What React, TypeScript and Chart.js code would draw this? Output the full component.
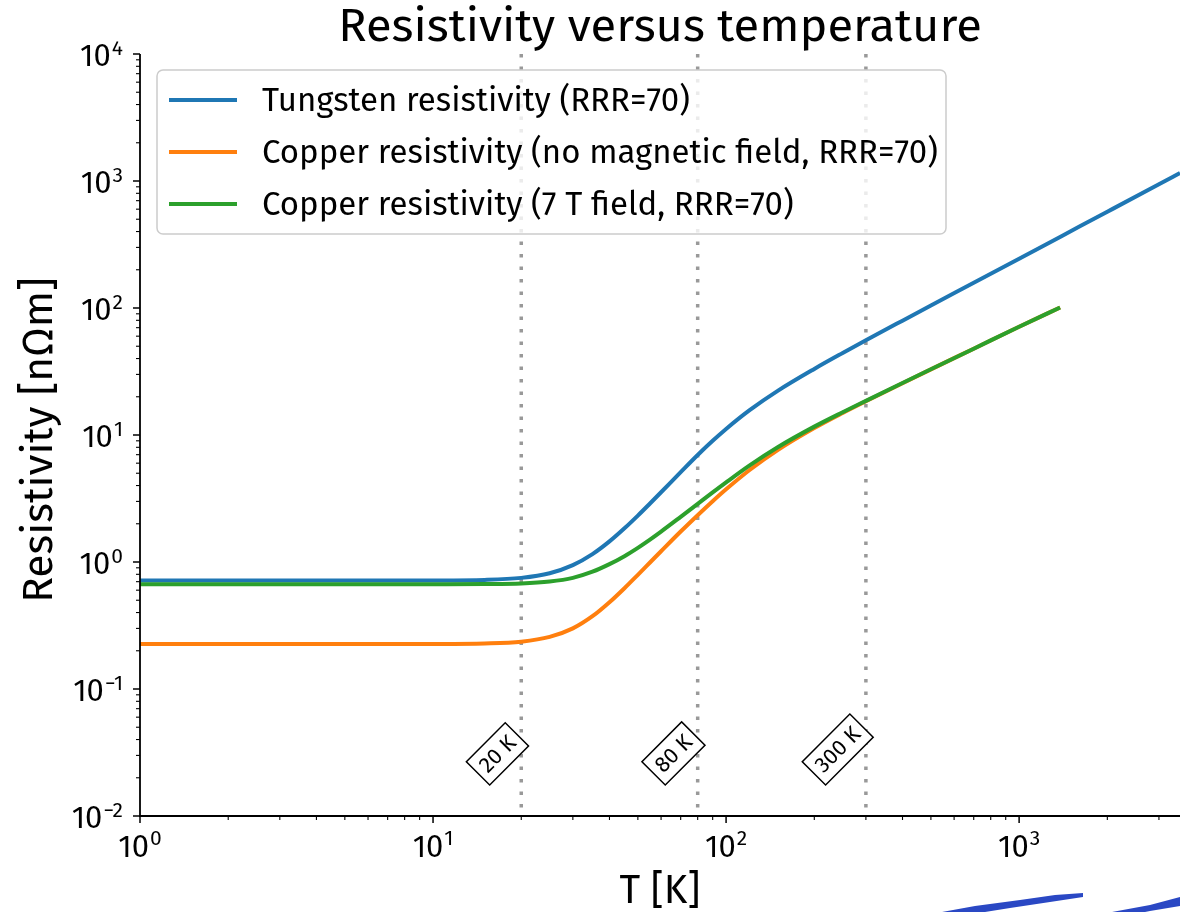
import React, { useEffect, useRef } from "react";
import { Chart, registerables } from "chart.js";

Chart.register(...registerables);

const FONT = "'Fira Sans', 'Open Sans', sans-serif";

// ---- data ----
const tungstenT = [1, 2, 5, 10, 15, 20, 25, 30, 35, 40, 45, 50, 55, 60, 70, 80, 90, 100, 120, 150, 200, 250, 300, 400, 500, 700, 1000, 1400, 2000, 3000, 3540];
const tungstenRho = [0.715, 0.715, 0.715, 0.716, 0.723, 0.75, 0.816, 0.945, 1.154, 1.453, 1.843, 2.321, 2.89, 3.541, 5.101, 6.965, 9.005, 11.165, 15.625, 22.265, 33.145, 44.245, 55.685, 79.5, 104.6, 157.9, 244.5, 369.6, 572.7, 942.7, 1156];

const copperT = [1, 2, 5, 10, 15, 20, 25, 30, 35, 40, 45, 50, 55, 60, 70, 80, 90, 100, 120, 150, 200, 250, 300, 400, 500, 700, 1000, 1380];
const copperRho = [0.226, 0.226, 0.226, 0.2263, 0.2284, 0.236, 0.257, 0.3, 0.374, 0.482, 0.622, 0.793, 0.991, 1.215, 1.737, 2.336, 3.009, 3.735, 5.279, 7.609, 11.34, 14.92, 18.45, 25.59, 32.87, 47.82, 71.19, 101];
const copper7TRho = [0.668, 0.668, 0.668, 0.6683, 0.6704, 0.678, 0.702, 0.75, 0.839, 0.962, 1.112, 1.293, 1.501, 1.735, 2.267, 2.866, 3.529, 4.235, 5.739, 8.009, 11.64, 15.12, 18.58, 25.65, 32.9, 47.83, 71.19, 101];

const seriesLabels = [
  "Tungsten resistivity (RRR=70)",
  "Copper resistivity (no magnetic field, RRR=70)",
  "Copper resistivity (7 T field, RRR=70)",
];
const seriesColors = ["#1f77b4", "#ff7f0e", "#2ca02c"];

const markerTemps = [20, 80, 300];
const markerLabels = ["20 K", "80 K", "300 K"];
const markerLabelY = 0.02;

const xMin = 1;
const xMax = 3540;
const yMin = 0.01;
const yMax = 10000;

const titleText = "Resistivity versus temperature";
const xTitle = "T [K]";
const yTitle = "Resistivity [nΩm]";

function toPoints(xs: number[], ys: number[]) {
  return xs.map((x, i) => ({ x, y: ys[i] }));
}

function logTicks(min: number, max: number) {
  const out: { v: number; major: boolean; exp: number }[] = [];
  for (let k = Math.floor(Math.log10(min)); k <= Math.ceil(Math.log10(max)); k++) {
    for (let m = 1; m <= 9; m++) {
      const v = m * Math.pow(10, k);
      if (v >= min * 0.9999 && v <= max * 1.0001) out.push({ v, major: m === 1, exp: k });
    }
  }
  return out;
}

function expText(e: number) {
  return e < 0 ? "\u2212" + Math.abs(e) : String(e);
}

const MAIN_TICK_FONT = `31px ${FONT}`;
const SUP_TICK_FONT = `21px ${FONT}`;

function drawPow(ctx: CanvasRenderingContext2D, exp: number, x: number, baseline: number, supBaseline: number, align: "center" | "right") {
  ctx.font = MAIN_TICK_FONT;
  const w1 = ctx.measureText("10").width;
  ctx.font = SUP_TICK_FONT;
  const es = expText(exp);
  const w2 = ctx.measureText(es).width;
  const total = w1 + 1 + w2;
  const start = align === "center" ? x - total / 2 : x - total;
  ctx.textAlign = "left";
  ctx.textBaseline = "alphabetic";
  ctx.font = MAIN_TICK_FONT;
  ctx.fillText("10", start, baseline);
  ctx.font = SUP_TICK_FONT;
  ctx.fillText(es, start + w1 + 1, supBaseline);
}

const decorPlugin = {
  id: "decor",
  beforeDatasetsDraw(chart: any) {
    const { ctx, chartArea, scales } = chart;
    const xs = scales.x;
    ctx.save();
    ctx.strokeStyle = "#999999";
    ctx.lineWidth = 3.5;
    ctx.setLineDash([3.5, 9]);
    markerTemps.forEach((t) => {
      const px = xs.getPixelForValue(t);
      ctx.beginPath();
      ctx.moveTo(px, chartArea.top);
      ctx.lineTo(px, chartArea.bottom);
      ctx.stroke();
    });
    ctx.restore();
  },
  afterDatasetsDraw(chart: any) {
    const { ctx, chartArea, scales } = chart;
    const xs = scales.x;
    const ys = scales.y;
    const { left, right, top, bottom } = chartArea;
    ctx.save();
    ctx.fillStyle = "#000";
    ctx.strokeStyle = "#000";

    // spines
    ctx.lineWidth = 1.8;
    ctx.beginPath();
    ctx.moveTo(left, top);
    ctx.lineTo(left, bottom);
    ctx.lineTo(right, bottom);
    ctx.stroke();

    // x ticks
    logTicks(xMin, xMax).forEach((t) => {
      const px = xs.getPixelForValue(t.v);
      ctx.lineWidth = t.major ? 1.5 : 1.1;
      ctx.beginPath();
      ctx.moveTo(px, bottom);
      ctx.lineTo(px, bottom + (t.major ? 7 : 4));
      ctx.stroke();
      if (t.major) drawPow(ctx, t.exp, px, bottom + 41, bottom + 29, "center");
    });
    // y ticks
    logTicks(yMin, yMax).forEach((t) => {
      const py = ys.getPixelForValue(t.v);
      ctx.lineWidth = t.major ? 1.5 : 1.1;
      ctx.beginPath();
      ctx.moveTo(left, py);
      ctx.lineTo(left - (t.major ? 7 : 4), py);
      ctx.stroke();
      if (t.major) drawPow(ctx, t.exp, left - 17, py + 12, py + 0.5, "right");
    });

    // title
    ctx.font = `47px ${FONT}`;
    ctx.textAlign = "center";
    ctx.textBaseline = "alphabetic";
    ctx.fillText(titleText, (left + right) / 2, 41);

    // axis titles
    ctx.font = `40px ${FONT}`;
    ctx.fillText(xTitle, (left + right) / 2, 903);
    ctx.save();
    ctx.translate(52, 440);
    ctx.rotate(-Math.PI / 2);
    ctx.font = `42.5px ${FONT}`;
    ctx.fillText(yTitle, 0, 0);
    ctx.restore();

    // legend
    const lx = 157, ly = 70, lw = 789, lh = 164;
    ctx.beginPath();
    if ((ctx as any).roundRect) (ctx as any).roundRect(lx, ly, lw, lh, 6);
    else ctx.rect(lx, ly, lw, lh);
    ctx.fillStyle = "rgba(255,255,255,0.8)";
    ctx.fill();
    ctx.strokeStyle = "#cccccc";
    ctx.lineWidth = 1.5;
    ctx.stroke();
    const rows = [100, 152, 204];
    seriesLabels.forEach((lab, i) => {
      ctx.strokeStyle = seriesColors[i];
      ctx.lineWidth = 4;
      ctx.beginPath();
      ctx.moveTo(169, rows[i]);
      ctx.lineTo(237, rows[i]);
      ctx.stroke();
      ctx.fillStyle = "#000";
      ctx.font = `33px ${FONT}`;
      ctx.textAlign = "left";
      ctx.textBaseline = "alphabetic";
      ctx.fillText(lab, 262, rows[i] + 11);
    });

    // marker labels (boxed, rotated 45deg)
    const fs = 22;
    markerTemps.forEach((t, i) => {
      ctx.font = `${fs}px ${FONT}`;
      const tw = ctx.measureText(markerLabels[i]).width;
      const bw = tw + 13;
      const bh = fs + 11;
      const ext = (bw + bh) / (2 * Math.SQRT2);
      const rx = xs.getPixelForValue(t) + 7.3;
      const by = ys.getPixelForValue(markerLabelY) + 7.2;
      const cx = rx - ext;
      const cy = by - ext;
      ctx.save();
      ctx.translate(cx, cy);
      ctx.rotate(-Math.PI / 4);
      ctx.fillStyle = "#fff";
      ctx.fillRect(-bw / 2, -bh / 2, bw, bh);
      ctx.strokeStyle = "#000";
      ctx.lineWidth = 1.5;
      ctx.strokeRect(-bw / 2, -bh / 2, bw, bh);
      ctx.fillStyle = "#000";
      ctx.textAlign = "center";
      ctx.textBaseline = "middle";
      ctx.fillText(markerLabels[i], 0, 1);
      ctx.restore();
    });

    // blue scribble artifact at bottom right
    ctx.fillStyle = "#2a48c4";
    ctx.beginPath();
    ctx.moveTo(942, 912);
    ctx.lineTo(975, 906);
    ctx.lineTo(1020, 900);
    ctx.lineTo(1055, 895);
    ctx.lineTo(1083, 893);
    ctx.lineTo(1083, 897);
    ctx.lineTo(1050, 902);
    ctx.lineTo(1010, 908);
    ctx.lineTo(985, 912);
    ctx.closePath();
    ctx.fill();
    ctx.beginPath();
    ctx.moveTo(1112, 912);
    ctx.lineTo(1150, 905);
    ctx.lineTo(1180, 897);
    ctx.lineTo(1180, 906);
    ctx.lineTo(1150, 911);
    ctx.lineTo(1145, 912);
    ctx.closePath();
    ctx.fill();

    ctx.restore();
  },
};

export default function App() {
  const ref = useRef<HTMLCanvasElement | null>(null);
  useEffect(() => {
    if (!ref.current) return;
    const chart = new Chart(ref.current, {
      type: "line",
      data: {
        datasets: [
          { label: seriesLabels[0], data: toPoints(tungstenT, tungstenRho), borderColor: seriesColors[0], order: 3 },
          { label: seriesLabels[1], data: toPoints(copperT, copperRho), borderColor: seriesColors[1], order: 2 },
          { label: seriesLabels[2], data: toPoints(copperT, copper7TRho), borderColor: seriesColors[2], order: 1 },
        ],
      },
      options: {
        responsive: false,
        animation: false,
        devicePixelRatio: 1,
        layout: { padding: { top: 54, left: 0, right: 0, bottom: 0 } },
        elements: {
          line: { borderWidth: 4, cubicInterpolationMode: "monotone", fill: false },
          point: { radius: 0 },
        },
        plugins: { legend: { display: false }, title: { display: false }, tooltip: { enabled: false } },
        scales: {
          x: {
            type: "logarithmic",
            min: xMin,
            max: xMax,
            ticks: { display: false },
            grid: { display: false },
            border: { display: false },
            afterFit: (s: any) => { s.height = 96; },
          },
          y: {
            type: "logarithmic",
            min: yMin,
            max: yMax,
            ticks: { display: false },
            grid: { display: false },
            border: { display: false },
            afterFit: (s: any) => { s.width = 140; },
          },
        },
      } as any,
      plugins: [decorPlugin],
    });
    return () => chart.destroy();
  }, []);
  return (
    <div style={{ position: "absolute", left: 0, top: 0, width: 1180, height: 912, background: "#fff" }}>
      <canvas ref={ref} width={1180} height={912} style={{ display: "block" }} />
    </div>
  );
}
